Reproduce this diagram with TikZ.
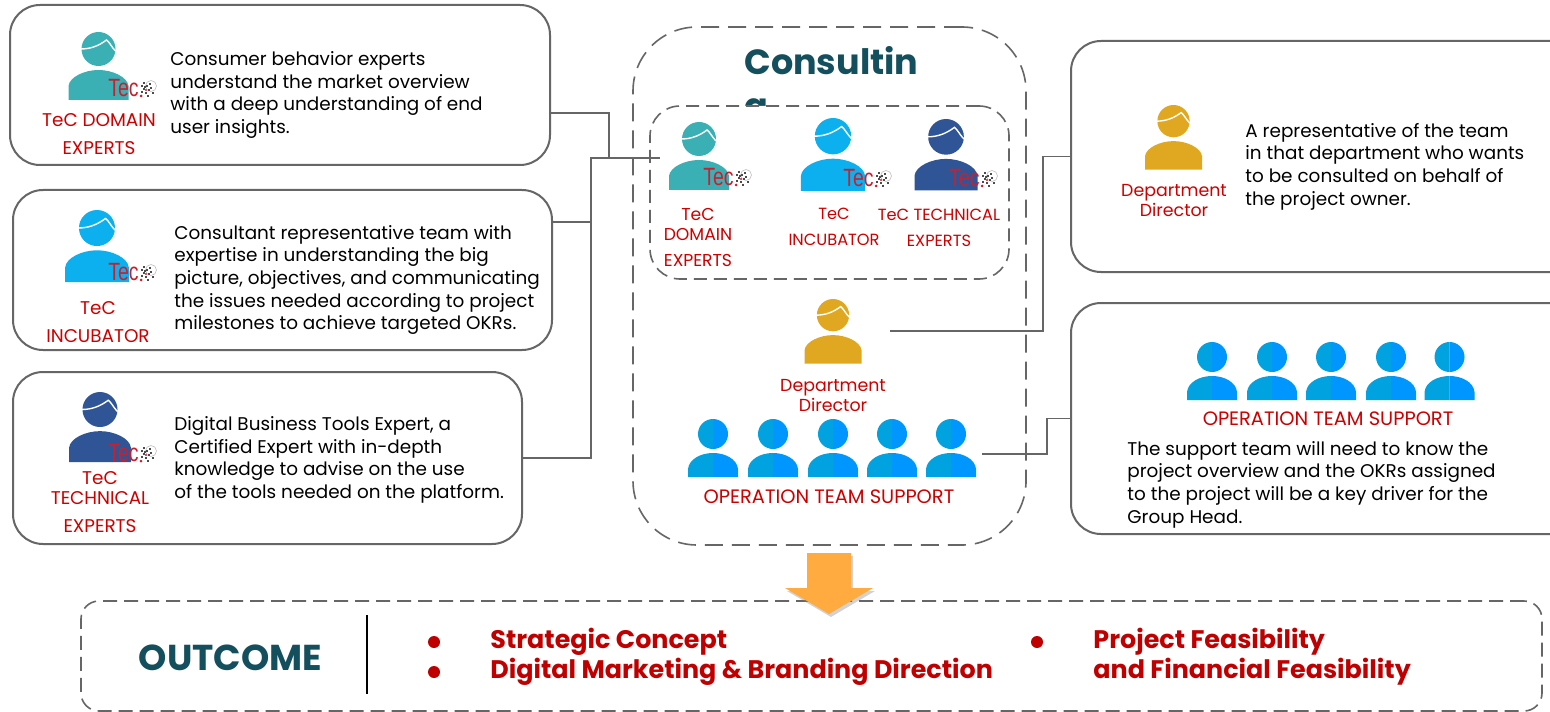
\documentclass[tikz,border=0pt]{standalone}
\usepackage{fontspec}
\setmainfont{Poppins}
\newfontfamily\tecfont{Liberation Sans}
\usetikzlibrary{shadows,calc}
\definecolor{linegray}{HTML}{666666}
\definecolor{labelred}{HTML}{CC0000}
\definecolor{boldred}{HTML}{C00000}
\definecolor{headteal}{HTML}{134F5C}
\definecolor{domainc}{HTML}{3AB0B5}
\definecolor{incubc}{HTML}{0DB0EE}
\definecolor{techc}{HTML}{2F5597}
\definecolor{dirc}{HTML}{E0A820}
\definecolor{teamL}{HTML}{00A3E0}
\definecolor{teamR}{HTML}{0096FF}
\definecolor{arrowc}{HTML}{FFAB40}
\definecolor{logored}{HTML}{C8202E}
\tikzset{
  x=0.5pt,y=-0.5pt,
  cardbox/.style={draw=linegray,line width=1pt,rounded corners=15pt,fill=white,inner sep=0,outer sep=0},
  bodytext/.style={font=\fontsize{9.2}{11.35}\selectfont,text=black,align=left,anchor=west,inner sep=0},
  redlabel/.style={font=\fontsize{9.2}{14}\selectfont,text=labelred,align=center,inner sep=0},
  smalllabel/.style={font=\fontsize{8.1}{13}\selectfont,text=labelred,align=center,inner sep=0},
  dirlabel/.style={font=\fontsize{8.7}{10}\selectfont,text=labelred,align=center,inner sep=0},
  teamlabel/.style={font=\fontsize{9.7}{10}\selectfont,text=labelred,inner sep=0},
  outcometext/.style={font=\fontsize{12.7}{15}\selectfont\bfseries,text=boldred,align=left,anchor=west,inner sep=0},
  conn/.style={draw=linegray,line width=0.8pt},
}
\newcommand{\personpic}[4]{% cx, top, scale, colour
  \begin{scope}[shift={(#1,#2)},scale=#3]
    \fill[#4] (0,17) circle[radius=17];
    \fill[#4] (-30,68) -- (-30,54) .. controls (-29,45) and (-14,38) .. (0,38) .. controls (14,38) and (29,45) .. (30,54) -- (30,68) -- cycle;
    \draw[white,line width=0.7pt] (-18,17) .. controls (-8,17) and (0,14) .. (8,8) .. controls (11,10) and (13,15) .. (17,19);
  \end{scope}}
\newcommand{\teampic}[2]{% cx, top
  \begin{scope}[shift={(#1,#2)}]
    \fill[teamL] (0,30) arc[start angle=90,end angle=270,radius=15] -- cycle;
    \fill[teamR] (0,30) arc[start angle=90,end angle=-90,radius=15] -- cycle;
    \fill[teamL] (0,58) -- (-25,58) -- (-25,50) .. controls (-24,40) and (-12,34) .. (0,34) -- cycle;
    \fill[teamR] (0,58) -- (25,58) -- (25,50) .. controls (24,40) and (12,34) .. (0,34) -- cycle;
  \end{scope}}
\newcommand{\tecmark}[3]{% left, middle, name
  \node[anchor=west,inner sep=0,text=logored,font=\fontsize{12.5}{13}\selectfont\tecfont,xscale=0.78] (#3) at (#1,#2) {Tec};
  \begin{scope}[shift={(#1,#2)}]
    \draw[gray!50,line width=0.3pt,fill=white] (43,-2) circle[radius=5.5];
    \foreach \a/\b in {35/-6,38/-3,35/0,40/1,37/4,33/3,41/-5,44/4,39/7,36/-2,33/-3,42/-1}
      \fill[black!70] (\a,\b) rectangle ++(2.3,2.3);
    \fill[logored] (33,8) circle[radius=1.5];
    \fill[logored] (38,2) circle[radius=1.2];
  \end{scope}}
\begin{document}
\begin{tikzpicture}
\path[clip] (0,0) rectangle (1550,711);
\fill[white] (0,0) rectangle (1550,711);

% left cards
\node[cardbox,minimum width=270pt,minimum height=80pt] (card1) at (280,85) {};
\node[cardbox,minimum width=269.5pt,minimum height=80pt] (card2) at (282.5,270) {};
\node[cardbox,minimum width=254.5pt,minimum height=86pt] (card3) at (267.5,458) {};
% right cards
\node[cardbox,minimum width=260pt,minimum height=115.5pt] (card4) at (1331,156.5) {};
\node[cardbox,minimum width=260pt,minimum height=115.5pt] (card5) at (1331,418.5) {};

% consulting box
\node[draw=linegray,line width=0.8pt,dash pattern=on 9pt off 4.5pt,rounded corners=32pt,minimum width=196.5pt,minimum height=259pt,inner sep=0] (mainbox) at (829.5,286) {};
\node[anchor=north west,inner sep=0,text=headteal,align=left,font=\fontsize{17.5}{22}\selectfont\bfseries] (head) at (744,46) {Consultin\\g};
\node[draw=linegray,fill=white,line width=0.8pt,dash pattern=on 6.5pt off 3.5pt,rounded corners=15pt,minimum width=179.5pt,minimum height=86.5pt,inner sep=0] (innerbox) at (829.5,192.5) {};

% outcome box
\node[draw=linegray,line width=0.8pt,dash pattern=on 7pt off 3.5pt,rounded corners=9pt,minimum width=730.5pt,minimum height=55pt,inner sep=0] (outbox) at (811.5,656) {};

% connectors
\coordinate (j1) at (609,113);
\coordinate (j2) at (591,222);
\coordinate (j3) at (591,458);
\coordinate (jt) at (660,158);
\coordinate (dirout) at (890,331);
\coordinate (j4) at (1043,331);
\coordinate (teamout) at (982,454);
\coordinate (j5) at (1047,454);
\draw[conn] (card1.east |- j1) -- (j1) -- (j1 |- jt);
\draw[conn,line width=1pt] (card2.east |- j2) -- (j2) -- (j2 |- jt) -- (jt);
\draw[conn] (card3.east |- j3) -- (j3) -- (j2);
\draw[conn] (dirout) -- (j4) -- (j4 |- card4.west) -- (card4.west);
\draw[conn] (teamout) -- (j5) -- (j5 |- card5.west) -- (card5.west);

% card people
\personpic{98.5}{32}{1}{domainc}
\tecmark{108}{88}{t1}
\personpic{97}{210}{1.06}{incubc}
\tecmark{108}{272}{t2}
\personpic{100}{392}{1.03}{techc}
\tecmark{108}{453}{t3}
\personpic{1173.5}{105}{0.95}{dirc}

% inner people
\personpic{699}{122}{1}{domainc}
\tecmark{703}{177}{t4}
\personpic{833}{118}{1.07}{incubc}
\tecmark{843}{178}{t5}
\personpic{946}{119}{1.05}{techc}
\tecmark{949}{178}{t6}
\personpic{833}{299}{0.95}{dirc}

% teams
\foreach \cx in {713,773,833,892,951} {\teampic{\cx}{419}}
\foreach \cx in {1212,1272,1331,1391,1449.5} {\teampic{\cx}{342}}

% card labels
\node[redlabel] (l1) at (99,134) {TeC DOMAIN\\EXPERTS};
\node[redlabel] (l2) at (98,322) {TeC\\INCUBATOR};
\node[redlabel] (l3) at (100,502) {TeC\\[-4pt]TECHNICAL\\EXPERTS};
\node[dirlabel] (l4) at (1174,201) {Department\\Director};

% inner labels
\node[smalllabel,font=\fontsize{8.6}{13}\selectfont] (l5) at (698,237) {TeC\\[-3pt]DOMAIN\\EXPERTS};
\node[smalllabel] (l6) at (834,227) {TeC\\INCUBATOR};
\node[smalllabel] (l7) at (939,228) {TeC TECHNICAL\\EXPERTS};
\node[dirlabel] (l8) at (833,396) {Department\\Director};
\node[teamlabel] (l9) at (829,497) {OPERATION TEAM SUPPORT};
\node[teamlabel] (l10) at (1328,419) {OPERATION TEAM SUPPORT};

% descriptions
\node[bodytext] (d1) at (170,95) {Consumer behavior experts\\understand the market overview\\with a deep understanding of end\\user insights.};
\node[bodytext] (d2) at (174,280) {Consultant representative team with\\expertise in understanding the big\\picture, objectives, and communicating\\the issues needed according to project\\milestones to achieve targeted OKRs.};
\node[bodytext] (d3) at (174,460) {Digital Business Tools Expert, a\\Certified Expert with in-depth\\knowledge to advise on the use\\of the tools needed on the platform.};
\node[bodytext] (d4) at (1245,166.5) {A representative of the team\\in that department who wants\\to be consulted on behalf of\\the project owner.};
\node[bodytext] (d5) at (1127,484.5) {The support team will need to know the\\project overview and the OKRs assigned\\to the project will be a key driver for the\\Group Head.};

% arrow
\fill[arrowc,drop shadow={shadow xshift=1pt,shadow yshift=-1.5pt,opacity=0.35}] (807,553) -- (851,553) -- (851,588) -- (873,588) -- (829,614) -- (785,588) -- (807,588) -- cycle;

% outcome content
\node[text=headteal,inner sep=0,font=\fontsize{18}{20}\selectfont\bfseries] (outtitle) at (230.5,658) {OUTCOME};
\coordinate (bart) at (367,615);
\coordinate (barb) at (367,694);
\draw[black,line width=1.2pt] (bart) -- (barb);
\fill[boldred] (434,642) circle[radius=6];
\fill[boldred] (434,672) circle[radius=6];
\fill[boldred] (1037,642) circle[radius=6];
\node[outcometext] (o1) at (490,657) {Strategic Concept\\Digital Marketing \& Branding Direction};
\node[outcometext] (o2) at (1093,657) {Project Feasibility\\and Financial Feasibility};
\end{tikzpicture}
\end{document}
